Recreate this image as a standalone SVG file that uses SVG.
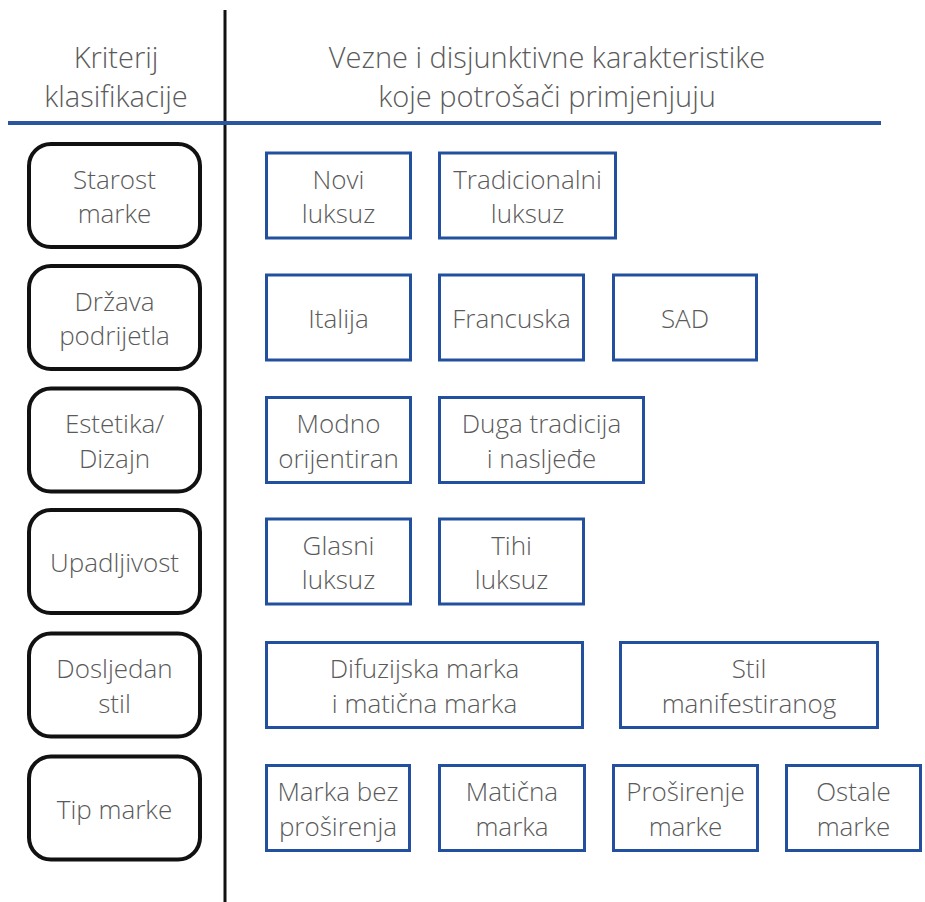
<svg xmlns="http://www.w3.org/2000/svg" width="925" height="902" viewBox="0 0 925 902">
<style>
text{font-family:"Open Sans","Noto Sans","DejaVu Sans",sans-serif;fill:#5a5a5a;text-anchor:middle;font-weight:300}
.h{font-size:29px}
.t{font-size:26px}
.crit{fill:#fff;stroke:#111;stroke-width:4}
.val{fill:#fff;stroke:#23509e;stroke-width:3}
</style>
<rect width="925" height="902" fill="#fff"/>
<g id="header">
<text class="h" x="116" y="68">Kriterij</text>
<text class="h" x="116" y="107">klasifikacije</text>
<text class="h" x="547" y="68">Vezne i disjunktivne karakteristike</text>
<text class="h" x="547" y="107">koje potrošači primjenjuju</text>
</g>
<g id="connectors">
<line x1="225" y1="10" x2="225" y2="902" stroke="#111" stroke-width="3"/>
<line x1="8" y1="123" x2="881" y2="123" stroke="#2a56a0" stroke-width="4"/>
</g>
<g id="c1"><rect class="crit" x="29" y="144" width="171" height="103" rx="22"/><text class="t" x="114.5" y="188.5">Starost</text><text class="t" x="114.5" y="223">marke</text></g>
<g id="c2"><rect class="crit" x="29" y="266" width="171" height="103" rx="22"/><text class="t" x="114.5" y="310.5">Država</text><text class="t" x="114.5" y="345">podrijetla</text></g>
<g id="c3"><rect class="crit" x="29" y="388.5" width="171" height="103" rx="22"/><text class="t" x="114.5" y="433">Estetika/</text><text class="t" x="114.5" y="467.5">Dizajn</text></g>
<g id="c4"><rect class="crit" x="29" y="510" width="171" height="103" rx="22"/><text class="t" x="114.5" y="572">Upadljivost</text></g>
<g id="c5"><rect class="crit" x="29" y="633.5" width="171" height="103" rx="22"/><text class="t" x="114.5" y="678">Dosljedan</text><text class="t" x="114.5" y="712.5">stil</text></g>
<g id="c6"><rect class="crit" x="29" y="756.5" width="171" height="103" rx="22"/><text class="t" x="114.5" y="818.5">Tip marke</text></g>

<g id="v1a"><rect class="val" x="266.5" y="153" width="144" height="85"/><text class="t" x="338.5" y="188.5">Novi</text><text class="t" x="338.5" y="223">luksuz</text></g>
<g id="v1b"><rect class="val" x="439.5" y="153" width="176" height="85"/><text class="t" x="527.5" y="188.5">Tradicionalni</text><text class="t" x="527.5" y="223">luksuz</text></g>

<g id="v2a"><rect class="val" x="266.5" y="275" width="144" height="85"/><text class="t" x="338.5" y="328">Italija</text></g>
<g id="v2b"><rect class="val" x="439.5" y="275" width="144" height="85"/><text class="t" x="511.5" y="328">Francuska</text></g>
<g id="v2c"><rect class="val" x="613.5" y="275" width="143" height="85"/><text class="t" x="685" y="328">SAD</text></g>

<g id="v3a"><rect class="val" x="266.5" y="397.5" width="144" height="85"/><text class="t" x="338.5" y="433">Modno</text><text class="t" x="338.5" y="467.5">orijentiran</text></g>
<g id="v3b"><rect class="val" x="439.5" y="397.5" width="204" height="85"/><text class="t" x="541.5" y="433">Duga tradicija</text><text class="t" x="541.5" y="467.5">i nasljeđe</text></g>

<g id="v4a"><rect class="val" x="266.5" y="519" width="144" height="85"/><text class="t" x="338.5" y="554.5">Glasni</text><text class="t" x="338.5" y="589">luksuz</text></g>
<g id="v4b"><rect class="val" x="439.5" y="519" width="144" height="85"/><text class="t" x="511.5" y="554.5">Tihi</text><text class="t" x="511.5" y="589">luksuz</text></g>

<g id="v5a"><rect class="val" x="266.5" y="642.5" width="316" height="85"/><text class="t" x="424.5" y="678">Difuzijska marka</text><text class="t" x="424.5" y="712.5">i matična marka</text></g>
<g id="v5b"><rect class="val" x="620.5" y="642.5" width="257" height="85"/><text class="t" x="749" y="678">Stil</text><text class="t" x="749" y="712.5">manifestiranog</text></g>

<g id="v6a"><rect class="val" x="266.5" y="765.5" width="143" height="85"/><text class="t" x="338" y="801">Marka bez</text><text class="t" x="338" y="835.5">proširenja</text></g>
<g id="v6b"><rect class="val" x="439.5" y="765.5" width="145" height="85"/><text class="t" x="512" y="801">Matična</text><text class="t" x="512" y="835.5">marka</text></g>
<g id="v6c"><rect class="val" x="613.5" y="765.5" width="144" height="85"/><text class="t" x="685.5" y="801">Proširenje</text><text class="t" x="685.5" y="835.5">marke</text></g>
<g id="v6d"><rect class="val" x="786.5" y="765.5" width="134" height="85"/><text class="t" x="853.5" y="801">Ostale</text><text class="t" x="853.5" y="835.5">marke</text></g>
</svg>
